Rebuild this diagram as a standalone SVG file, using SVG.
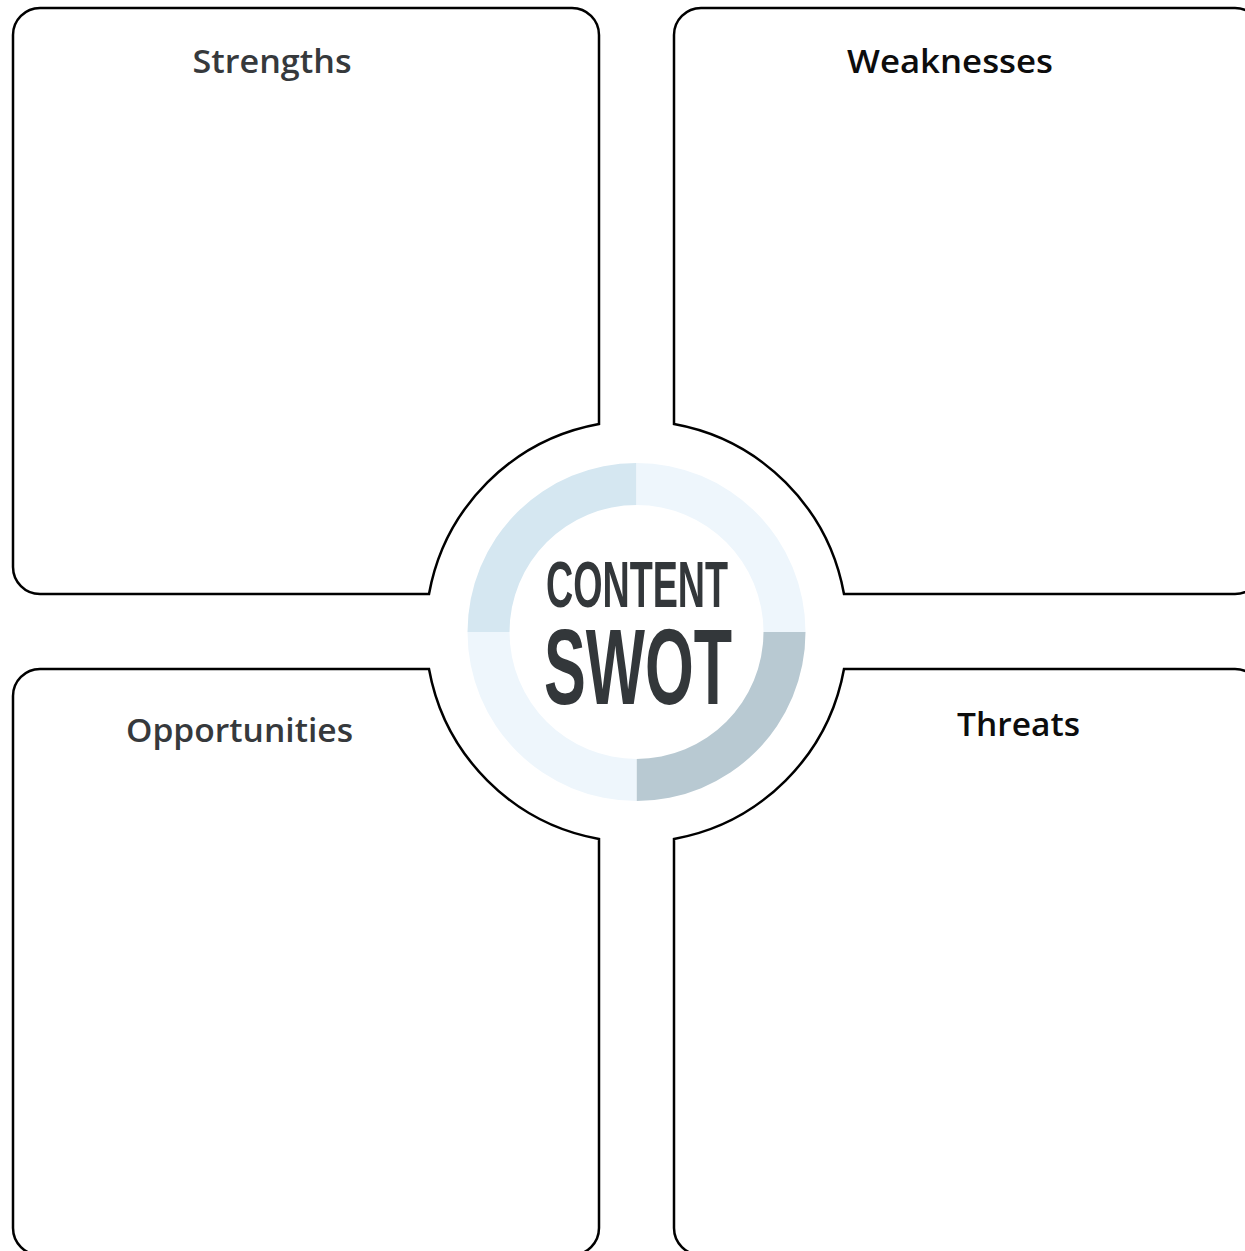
<svg xmlns="http://www.w3.org/2000/svg" width="1245" height="1251" viewBox="0 0 1245 1251">
<style>
.box{fill:#fff;stroke:#000;stroke-width:2.5;stroke-linejoin:miter}
.lbl{font-family:"Open Sans","Liberation Sans",sans-serif;font-weight:600;font-size:32px;text-anchor:middle}
.gray{fill:#36393c}
.blk{fill:#0d0d0d}
.title{font-family:"Liberation Sans",Arial,sans-serif;font-weight:700;fill:#33373a}
</style>
<rect width="1245" height="1251" fill="#fff"/>
<g id="strengths">
<path class="box" d="M40,8 H572 A27,27 0 0 1 599,35 V424 A211,211 0 0 0 429,594 H40 A27,27 0 0 1 13,567 V35 A27,27 0 0 1 40,8 Z"/>
<text class="lbl gray" x="272" y="73" textLength="159" lengthAdjust="spacingAndGlyphs">Strengths</text>
</g>
<g id="weaknesses">
<path class="box" d="M701,8 H1235 A27,27 0 0 1 1262,35 V567 A27,27 0 0 1 1235,594 H844 A211,211 0 0 0 674,424 V35 A27,27 0 0 1 701,8 Z"/>
<text class="lbl blk" x="950" y="73" textLength="206" lengthAdjust="spacingAndGlyphs">Weaknesses</text>
</g>
<g id="opportunities">
<path class="box" d="M40,669 H429 A211,211 0 0 0 599,839 V1228 A27,27 0 0 1 572,1255 H40 A27,27 0 0 1 13,1228 V696 A27,27 0 0 1 40,669 Z"/>
<text class="lbl gray" x="239.5" y="742" textLength="227" lengthAdjust="spacingAndGlyphs">Opportunities</text>
</g>
<g id="threats">
<path class="box" d="M674,1228 V839 A211,211 0 0 0 844,669 H1235 A27,27 0 0 1 1262,696 V1228 A27,27 0 0 1 1235,1255 H701 A27,27 0 0 1 674,1228 Z"/>
<text class="lbl blk" x="1018.5" y="736" textLength="123" lengthAdjust="spacingAndGlyphs">Threats</text>
</g>
<g id="center">
<path fill="#d5e7f1" d="M467.5,632 A169,169 0 0 1 636.5,463 V505 A127,127 0 0 0 509.5,632 Z"/>
<path fill="#eef6fc" d="M636.5,463 A169,169 0 0 1 805.5,632 H763.5 A127,127 0 0 0 636.5,505 Z"/>
<path fill="#b8c9d2" d="M805.5,632 A169,169 0 0 1 636.5,801 V759 A127,127 0 0 0 763.5,632 Z"/>
<path fill="#eef6fc" d="M636.5,801 A169,169 0 0 1 467.5,632 H509.5 A127,127 0 0 0 636.5,759 Z"/>
<text class="title"><tspan x="546" y="607" font-size="64" textLength="182" lengthAdjust="spacingAndGlyphs">CONTENT</tspan><tspan x="544" y="704" font-size="107" textLength="188" lengthAdjust="spacingAndGlyphs">SWOT</tspan></text>
</g>
<g id="connectors"></g>
</svg>
